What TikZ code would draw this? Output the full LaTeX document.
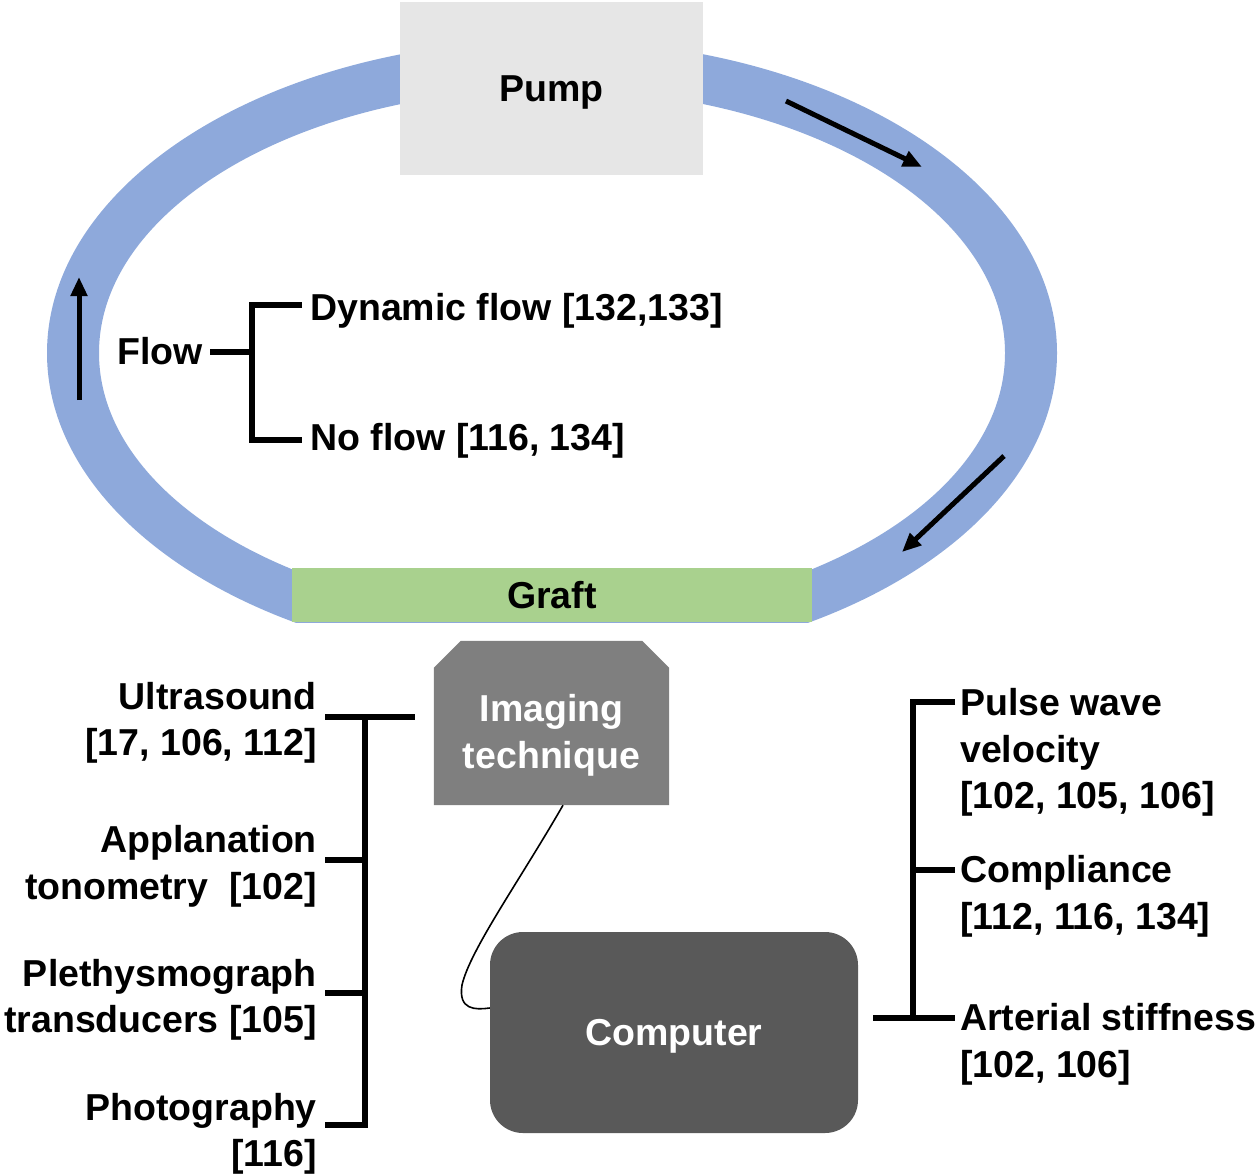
\documentclass[tikz,border=0pt]{standalone}
\usepackage{fontspec}
\setmainfont{Liberation Sans}
\usetikzlibrary{arrows.meta,calc}
\definecolor{ringblue}{HTML}{8EA9DB}
\definecolor{graftgreen}{HTML}{A9D18E}
\definecolor{pumpgray}{HTML}{E6E6E6}
\definecolor{imggray}{HTML}{7F7F7F}
\definecolor{compgray}{HTML}{595959}
\begin{document}
\begin{tikzpicture}[x=1pt,y=-1pt,
  txt/.style={font=\fontsize{37.5}{46.5}\selectfont\bfseries, inner sep=0pt},
  box/.style={font=\fontsize{37.5}{46.5}\selectfont\bfseries, inner sep=0pt, text height=26.9pt, text depth=0pt},
  brk/.style={line width=6.5pt, line join=miter, line cap=butt},
  flowarrow/.style={line width=5pt, -{Triangle[length=19pt,width=16pt]}},
  cable/.style={line width=1.6pt}
]
\useasboundingbox (0,0) rectangle (1260,1173);

% circulation loop
\begin{scope}
  \clip (0,0) rectangle (1260,622);
  \fill[ringblue, even odd rule] (552,353) ellipse [x radius=505, y radius=313]
                                 (552,353) ellipse [x radius=453, y radius=264];
\end{scope}

\node[box, fill=pumpgray, minimum width=303pt, minimum height=173pt] (pump) at (551.5,88.5) {Pump};
\node[box, fill=graftgreen, minimum width=520pt, minimum height=54pt] (graft) at (552,595) {Graft};

% flow direction arrows
\coordinate (a1s) at (786,101);  \coordinate (a1e) at (922,167);
\coordinate (a2s) at (1004,456); \coordinate (a2e) at (902,552);
\coordinate (a3s) at (79,400);   \coordinate (a3e) at (79,277);
\draw[flowarrow] (a1s) -- (a1e);
\draw[flowarrow] (a2s) -- (a2e);
\draw[flowarrow] (a3s) -- (a3e);

% flow bracket
\node[txt, anchor=east] (flow) at (203,355) {\strut Flow};
\node[txt, anchor=west] (dyn) at (310,311) {\strut Dynamic flow [132,133]};
\node[txt, anchor=west] (noflow) at (310,441) {\strut No flow [116, 134]};
\coordinate (fj) at (252,352);
\coordinate (ft) at (252,305);
\coordinate (fb) at (252,440);
\draw[brk] (210,352) -- (fj);
\draw[brk] (302,305) -- (ft) -- (fb) -- (302,440);

% imaging technique
\node[minimum width=235pt, minimum height=164pt, inner sep=0pt] (img) at (551.5,723) {};
\fill[imggray] ($(img.north west)+(0,27)$) -- ($(img.north west)+(27,0)$) -- ($(img.north east)+(-27,0)$) -- ($(img.north east)+(0,27)$) -- (img.south east) -- (img.south west) -- cycle;
\node[txt, text=white, align=center] (imgtxt) at (551.5,735.5) {\strut Imaging\\\strut technique};

% computer
\node[box, fill=compgray, text=white, rounded corners=33pt, minimum width=368pt, minimum height=201pt] (comp) at (674,1032.5) {Computer};

% cable
\draw[cable] ($(img.south)+(11.5,0)$) .. controls (520,880) and (470,950) .. (462,985) .. controls (458,1010) and (475,1010) .. ($(comp.west)+(0,-24.5)$);

% left bracket: imaging methods
\node[txt, anchor=east, align=right] (us) at (317,723) {\strut Ultrasound\\\strut [17, 106, 112]};
\node[txt, anchor=east, align=right] (ap) at (317,866.5) {\strut Applanation\\\strut tonometry\ \ [102]};
\node[txt, anchor=east, align=right] (pl) at (317,1000) {\strut Plethysmograph\\\strut transducers [105]};
\node[txt, anchor=east, align=right] (ph) at (317,1134) {\strut Photography\\\strut [116]};
\coordinate (lt) at (365,717);
\coordinate (lb) at (365,1125);
\draw[brk] (325,717) -- (415,717);
\draw[brk] (lt) -- (lb) -- (325,1125);
\draw[brk] (325,860) -- (365,860);
\draw[brk] (325,993) -- (365,993);

% right bracket: measured properties
\node[txt, anchor=north west, align=left] (pwv) at (960,683) {\strut Pulse wave\\\strut velocity\\\strut [102, 105, 106]};
\node[txt, anchor=north west, align=left] (cmp) at (960,850) {\strut Compliance\\\strut [112, 116, 134]};
\node[txt, anchor=north west, align=left] (ast) at (960,998) {\strut Arterial stiffness\\\strut [102, 106]};
\coordinate (rt) at (913,702);
\coordinate (rb) at (913,1018);
\draw[brk] (955,702) -- (rt) -- (rb);
\draw[brk] (913,870) -- (955,870);
\draw[brk] ($(comp.east)+(15,-14.5)$) -- (955,1018);
\end{tikzpicture}
\end{document}
